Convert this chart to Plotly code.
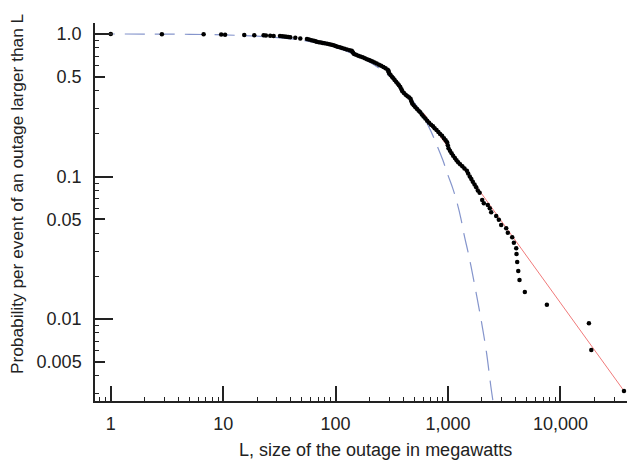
import plotly.graph_objects as go

outage_mw = [
    1.0, 2.85, 6.7, 9.6, 10.4, 15.4, 18.9, 22.9, 24.0, 26.2, 28.1, 32, 33.5, 35, 36.5, 38, 39.5, 43.8, 48.5, 55.6,
    58, 61, 64, 66, 68, 71, 74, 77, 80, 84, 88, 92, 96, 100, 104, 109, 114, 120, 126, 133,
    139, 141, 143, 146, 152, 159, 166, 174, 182, 190, 198, 205, 213, 222, 232, 243, 254, 266, 278, 290,
    295, 297, 300, 308, 317, 326, 335, 345, 356, 366, 376, 385, 392, 405, 420, 436, 452, 465, 472, 480,
    495, 512, 530, 548, 566, 585, 605, 628, 652, 678, 706, 735, 760, 790, 820, 850, 885, 920, 952, 980,
    995, 1010, 1040, 1075, 1110, 1150, 1190, 1230, 1280, 1340, 1400, 1470, 1510, 1560, 1610, 1660, 1720, 1780, 1840, 1910,
    2013, 2080, 2258, 2350, 2420, 2680, 2830, 2970, 3290, 3400, 3720, 3850, 4040, 4065, 4120, 4210, 4320, 4820, 7570,
    17900, 18800, 36700,
]
prob_larger = [
    1.0, 0.997, 0.994, 0.991, 0.988, 0.984, 0.981, 0.978, 0.975, 0.972, 0.969, 0.966, 0.963, 0.959, 0.956, 0.953, 0.950, 0.940, 0.930, 0.922,
    0.915, 0.905, 0.895, 0.888, 0.882, 0.876, 0.870, 0.865, 0.860, 0.853, 0.846, 0.839, 0.832, 0.824, 0.815, 0.806, 0.798, 0.788, 0.779, 0.770,
    0.762, 0.750, 0.738, 0.725, 0.715, 0.705, 0.696, 0.686, 0.676, 0.666, 0.656, 0.648, 0.640, 0.630, 0.620, 0.609, 0.598, 0.586, 0.574, 0.562,
    0.552, 0.540, 0.528, 0.515, 0.502, 0.489, 0.476, 0.462, 0.449, 0.437, 0.425, 0.410, 0.396, 0.385, 0.375, 0.366, 0.358, 0.350, 0.338, 0.326,
    0.316, 0.306, 0.298, 0.290, 0.283, 0.273, 0.264, 0.255, 0.246, 0.238, 0.231, 0.225, 0.218, 0.212, 0.205, 0.199, 0.193, 0.186, 0.180, 0.174,
    0.166, 0.158, 0.152, 0.146, 0.140, 0.135, 0.130, 0.126, 0.122, 0.118, 0.114, 0.110, 0.105, 0.100, 0.096, 0.092, 0.088, 0.084, 0.080, 0.077,
    0.0685, 0.065, 0.0632, 0.060, 0.0562, 0.0530, 0.0497, 0.0458, 0.0434, 0.0404, 0.0375, 0.0344, 0.0314, 0.0286, 0.0252, 0.0218, 0.0188, 0.0155, 0.0126,
    0.00935, 0.00608, 0.00314,
]

# dashed blue fit
fit_mw = [0.72, 5, 10, 20, 40, 70, 100, 150, 200, 300, 400, 500, 600, 700, 800, 900,
          1000, 1100, 1200, 1300, 1400, 1500, 1600, 1800, 2000, 2200, 2400, 2520]
fit_prob = [1.0, 0.995, 0.985, 0.965, 0.925, 0.865, 0.805, 0.715, 0.635, 0.51, 0.405, 0.33, 0.265, 0.21, 0.164, 0.13,
            0.102, 0.083, 0.066, 0.051, 0.038, 0.030, 0.0235, 0.0145, 0.0092, 0.0058, 0.0034, 0.0026]

# red power-law line end points
tail_mw = [604, 36700]
tail_prob = [0.279, 0.00314]

x_major = [1, 10, 100, 1000, 10000]
x_major_text = ["1", "10", "100", "1,000", "10,000"]
x_minor = [0.8, 0.9] + [m * d for d in [1, 10, 100, 1000, 10000] for m in range(2, 10)]

y_long = [1.0, 0.1, 0.01]
y_labels = [1.0, 0.5, 0.1, 0.05, 0.01, 0.005]
y_label_text = ["1.0", "0.5", "0.1", "0.05", "0.01", "0.005"]
y_minor = [m * d for d in [0.1, 0.01, 0.001] for m in range(2, 10) if m != 5]

font = dict(family="Liberation Sans, Arial, sans-serif", size=18, color="#222")
axcol = "#222"

fig = go.Figure()
fig.add_trace(go.Scatter(x=fit_mw, y=fit_prob, mode="lines", line=dict(color="#8595cc", width=1.2, dash="20px,10px", shape="spline"),
                         showlegend=False, hoverinfo="skip"))
fig.add_trace(go.Scatter(x=tail_mw, y=tail_prob, mode="lines", line=dict(color="#f07a7a", width=1),
                         showlegend=False, hoverinfo="skip"))
fig.add_trace(go.Scatter(x=outage_mw, y=prob_larger, mode="markers", marker=dict(color="black", size=4.5),
                         showlegend=False, cliponaxis=False))
# carrier for the long y ticks
fig.add_trace(go.Scatter(x=[1], y=[1], yaxis="y2", mode="lines", showlegend=False, hoverinfo="skip"))

# page body has an 8px margin, so the figure is a bit smaller than the window
fig.update_layout(
    width=627, height=455,
    margin=dict(l=87, r=2, t=15, b=62),
    plot_bgcolor="white", paper_bgcolor="white",
    font=font,
    xaxis=dict(type="log", range=[-0.14, 4.645], showgrid=False, zeroline=False, automargin=False,
               showline=True, linecolor=axcol, linewidth=1.5,
               ticks="inside", ticklen=15, tickwidth=1.5, tickcolor=axcol,
               tickvals=x_major, ticktext=x_major_text, ticklabelstandoff=6,
               minor=dict(tickvals=x_minor, ticks="inside", ticklen=4, tickwidth=1, tickcolor=axcol)),
    yaxis=dict(type="log", range=[-2.574, 0.077], showgrid=False, zeroline=False, automargin=False,
               showline=True, linecolor=axcol, linewidth=1.5,
               ticks="inside", ticklen=10, tickwidth=1.5, tickcolor=axcol,
               tickvals=y_labels, ticktext=y_label_text, ticklabelstandoff=8,
               minor=dict(tickvals=y_minor, ticks="inside", ticklen=4, tickwidth=1, tickcolor=axcol)),
    yaxis2=dict(type="log", range=[-2.574, 0.077], overlaying="y", anchor="x", side="left", automargin=False,
                showgrid=False, zeroline=False, showline=False,
                ticks="inside", ticklen=18, tickwidth=1.5, tickcolor=axcol,
                tickvals=y_long, showticklabels=False),
    annotations=[
        dict(text="L, size of the outage in megawatts", xref="paper", yref="paper", x=0.521, y=-0.13,
             xanchor="center", yanchor="middle", showarrow=False, font=font),
        dict(text="Probability per event of an outage larger than L", xref="paper", yref="paper", x=-0.145, y=0.55,
             xanchor="center", yanchor="middle", textangle=-90, showarrow=False, font=dict(font, size=17.3)),
    ],
)

fig.write_html("out.html")
